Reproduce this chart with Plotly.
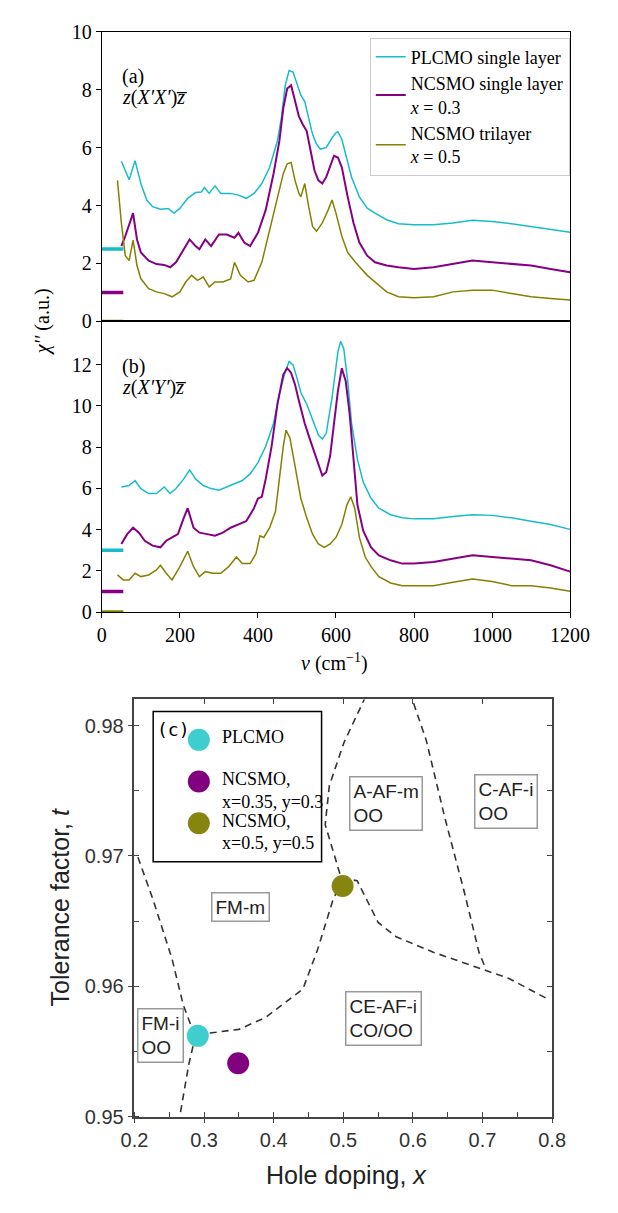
import plotly.graph_objects as go

# ---------------- data: panel (a) z(X'X')z ----------------
a_cyan_x = [50, 70, 85, 100, 115, 130, 150, 170, 185, 200, 220, 240, 255, 263, 275, 290, 305, 330, 350, 370, 390, 410, 430, 450, 460, 470, 480, 490, 500, 510, 520, 530, 540, 550, 560, 575, 590, 600, 605, 615, 625, 640, 660, 680, 700, 730, 760, 800, 850, 900, 950, 1000, 1050, 1100, 1150, 1200]
a_cyan_y = [5.53, 4.89, 5.55, 4.76, 4.19, 3.96, 3.87, 3.90, 3.74, 3.90, 4.25, 4.45, 4.47, 4.62, 4.42, 4.68, 4.42, 4.42, 4.36, 4.25, 4.42, 4.76, 5.32, 6.23, 7.02, 8.15, 8.66, 8.61, 8.21, 7.81, 7.59, 7.02, 6.46, 6.12, 5.95, 6.00, 6.34, 6.51, 6.55, 6.29, 5.78, 4.98, 4.30, 3.91, 3.74, 3.51, 3.37, 3.34, 3.34, 3.40, 3.49, 3.45, 3.37, 3.28, 3.17, 3.08]

a_purple_x = [50, 60, 80, 90, 100, 120, 140, 160, 175, 190, 210, 225, 240, 250, 265, 280, 300, 320, 340, 350, 365, 380, 400, 420, 440, 455, 465, 475, 485, 495, 505, 515, 525, 535, 545, 555, 565, 575, 585, 595, 605, 615, 630, 645, 660, 680, 700, 730, 760, 800, 850, 900, 950, 1000, 1050, 1100, 1150, 1200]
a_purple_y = [2.60, 2.94, 3.74, 2.83, 2.38, 2.10, 1.98, 1.95, 1.87, 2.04, 2.49, 2.83, 2.60, 2.49, 2.83, 2.60, 3.00, 3.00, 2.89, 3.06, 2.72, 2.60, 3.06, 3.85, 5.10, 6.23, 7.36, 8.04, 8.15, 7.59, 7.08, 6.80, 6.57, 5.89, 5.21, 4.87, 4.76, 4.98, 5.32, 5.72, 5.66, 5.32, 4.30, 3.40, 2.72, 2.27, 2.04, 1.93, 1.87, 1.81, 1.87, 1.98, 2.10, 2.04, 1.98, 1.93, 1.81, 1.70]

a_olive_x = [40, 50, 60, 70, 80, 90, 100, 120, 140, 160, 180, 200, 215, 230, 245, 260, 275, 290, 310, 330, 340, 355, 375, 390, 410, 430, 450, 465, 475, 485, 495, 505, 510, 520, 530, 540, 550, 565, 580, 590, 600, 615, 630, 650, 680, 700, 730, 760, 800, 850, 900, 950, 1000, 1050, 1100, 1150, 1200]
a_olive_y = [4.87, 3.40, 2.27, 2.10, 2.81, 1.93, 1.47, 1.13, 1.02, 0.96, 0.85, 1.02, 1.36, 1.59, 1.42, 1.53, 1.19, 1.36, 1.36, 1.47, 2.04, 1.59, 1.36, 1.42, 2.04, 3.17, 4.30, 5.10, 5.44, 5.49, 4.87, 4.42, 4.30, 4.76, 3.96, 3.28, 3.11, 3.40, 3.85, 4.19, 3.74, 2.94, 2.38, 2.04, 1.59, 1.36, 1.02, 0.85, 0.82, 0.85, 1.02, 1.08, 1.08, 0.96, 0.85, 0.79, 0.74]

# ---------------- data: panel (b) z(X'Y')z ----------------
b_cyan_x = [50, 70, 85, 100, 120, 140, 160, 175, 190, 210, 225, 240, 260, 280, 300, 320, 340, 360, 380, 400, 420, 440, 455, 470, 480, 490, 500, 510, 525, 540, 555, 565, 575, 590, 605, 612, 620, 630, 640, 655, 670, 690, 710, 740, 770, 800, 850, 900, 950, 1000, 1050, 1100, 1150, 1200]
b_cyan_y = [6.07, 6.14, 6.38, 5.99, 5.75, 5.75, 6.07, 5.75, 5.99, 6.46, 6.90, 6.46, 6.14, 5.99, 5.91, 6.07, 6.22, 6.38, 6.70, 7.25, 8.04, 9.15, 10.57, 11.67, 12.15, 11.99, 11.36, 10.65, 10.09, 9.30, 8.59, 8.39, 8.67, 10.41, 12.62, 13.13, 12.78, 11.20, 9.15, 7.41, 6.30, 5.51, 5.04, 4.72, 4.57, 4.52, 4.53, 4.64, 4.72, 4.69, 4.57, 4.41, 4.25, 4.01]

b_purple_x = [50, 65, 80, 95, 110, 130, 150, 165, 180, 195, 210, 220, 235, 250, 270, 290, 310, 330, 350, 370, 390, 400, 410, 420, 435, 450, 465, 475, 485, 495, 505, 520, 535, 550, 565, 575, 585, 595, 605, 615, 625, 635, 645, 655, 670, 690, 710, 740, 770, 800, 850, 900, 950, 1000, 1050, 1100, 1150, 1200]
b_purple_y = [3.30, 3.78, 4.09, 3.85, 3.46, 3.22, 3.14, 3.46, 3.62, 3.78, 4.57, 5.04, 4.09, 3.85, 3.78, 3.70, 3.85, 4.09, 4.25, 4.41, 5.04, 5.51, 5.59, 6.46, 8.04, 10.09, 11.52, 11.83, 11.60, 11.04, 10.25, 9.15, 8.28, 7.41, 6.62, 6.78, 7.57, 9.15, 10.73, 11.83, 11.20, 9.62, 7.25, 5.20, 3.93, 3.14, 2.75, 2.51, 2.35, 2.35, 2.43, 2.59, 2.75, 2.67, 2.59, 2.51, 2.27, 1.96]

b_olive_x = [40, 55, 70, 85, 100, 120, 140, 150, 165, 180, 200, 220, 235, 250, 265, 285, 305, 325, 345, 360, 380, 395, 405, 415, 430, 445, 455, 465, 472, 482, 495, 510, 525, 540, 555, 570, 585, 600, 615, 628, 638, 648, 660, 675, 690, 710, 740, 770, 800, 850, 900, 950, 1000, 1050, 1100, 1150, 1200]
b_olive_y = [1.80, 1.56, 1.56, 1.88, 1.72, 1.80, 2.04, 2.27, 1.88, 1.56, 2.20, 2.95, 2.20, 1.72, 1.96, 1.88, 1.88, 2.20, 2.67, 2.35, 2.35, 2.83, 3.70, 3.62, 4.09, 4.88, 6.46, 8.04, 8.83, 8.44, 7.09, 5.51, 4.57, 3.78, 3.30, 3.14, 3.30, 3.62, 4.25, 5.20, 5.59, 5.04, 3.62, 2.67, 2.20, 1.72, 1.41, 1.28, 1.28, 1.28, 1.44, 1.60, 1.48, 1.28, 1.28, 1.17, 1.01]

series_names = ["PLCMO single layer", "NCSMO single layer<br><i>x</i> = 0.3", "NCSMO trilayer<br><i>x</i> = 0.5"]
offsets_a = [2.5, 1.0, 0.0]
offsets_b = [3.0, 1.0, 0.0]
offset_bar_x = [0, 55]

xticks_ab = [0, 200, 400, 600, 800, 1000, 1200]
yticks_a = [0, 2, 4, 6, 8, 10]
yticks_b = [0, 2, 4, 6, 8, 10, 12]

# ---------------- data: panel (c) phase diagram ----------------
samples = ["PLCMO", "NCSMO,<br>x=0.35, y=0.3", "NCSMO,<br>x=0.5, y=0.5"]
sample_x = [0.291, 0.349, 0.499]
sample_t = [0.9562, 0.9541, 0.9677]

boundary_1x = [0.205, 0.227, 0.254, 0.270, 0.286]
boundary_1y = [0.9699, 0.9666, 0.9621, 0.9586, 0.9563]
boundary_2x = [0.288, 0.278, 0.265]
boundary_2y = [0.9563, 0.9540, 0.9500]
boundary_3x = [0.291, 0.318, 0.350, 0.388, 0.442, 0.463, 0.485, 0.498, 0.474, 0.480, 0.501, 0.531]
boundary_3y = [0.9563, 0.9565, 0.9567, 0.9576, 0.9598, 0.9628, 0.9666, 0.9681, 0.9724, 0.9754, 0.9787, 0.9821]
boundary_4x = [0.498, 0.520, 0.550, 0.576, 0.630, 0.700, 0.738, 0.791]
boundary_4y = [0.9683, 0.9681, 0.9649, 0.9638, 0.9626, 0.9613, 0.9606, 0.9591]
boundary_5x = [0.601, 0.619, 0.646, 0.673, 0.695, 0.705]
boundary_5y = [0.9817, 0.9789, 0.9729, 0.9674, 0.9626, 0.9613]

phase_labels = ["FM-m", "A-AF-m<br>OO", "C-AF-i<br>OO", "CE-AF-i<br>CO/OO", "FM-i<br>OO"]
phase_x = [0.352, 0.562, 0.734, 0.5575, 0.237]
phase_t = [0.9661, 0.9740, 0.9742, 0.9575, 0.9562]

xticks_c = [0.2, 0.3, 0.4, 0.5, 0.6, 0.7, 0.8]
yticks_c = [0.95, 0.96, 0.97, 0.98]

colors = ["#17bcc9", "#850085", "#858000"]
dot_colors = ["#3ecece", "#800080", "#858510"]

W, H = 618, 1213
def px(x): return x / W
def py(y): return 1 - y / H

SERIF = "Liberation Serif"
SANS = "Liberation Sans"

fig = go.Figure()

# panel (a)
for xs, ys, c, n, w in [(a_cyan_x, a_cyan_y, colors[0], series_names[0], 1.5),
                        (a_purple_x, a_purple_y, colors[1], series_names[1], 2.0),
                        (a_olive_x, a_olive_y, colors[2], series_names[2], 1.5)]:
    fig.add_trace(go.Scatter(x=xs, y=ys, mode="lines", line=dict(color=c, width=w),
                             name=n, xaxis="x", yaxis="y", showlegend=True))
for off, c in zip(offsets_a, colors):
    fig.add_trace(go.Scatter(x=offset_bar_x, y=[off, off], mode="lines", line=dict(color=c, width=3.5),
                             xaxis="x", yaxis="y", showlegend=False, cliponaxis=False))
# panel (b)
for xs, ys, c, w in [(b_cyan_x, b_cyan_y, colors[0], 1.5),
                     (b_purple_x, b_purple_y, colors[1], 2.0),
                     (b_olive_x, b_olive_y, colors[2], 1.5)]:
    fig.add_trace(go.Scatter(x=xs, y=ys, mode="lines", line=dict(color=c, width=w),
                             xaxis="x2", yaxis="y2", showlegend=False))
for off, c in zip(offsets_b, colors):
    fig.add_trace(go.Scatter(x=offset_bar_x, y=[off, off], mode="lines", line=dict(color=c, width=3.5),
                             xaxis="x2", yaxis="y2", showlegend=False, cliponaxis=False))

# panel (c)
for bx, by in [(boundary_1x, boundary_1y), (boundary_2x, boundary_2y), (boundary_3x, boundary_3y),
               (boundary_4x, boundary_4y), (boundary_5x, boundary_5y)]:
    fig.add_trace(go.Scatter(x=bx, y=by, mode="lines", line=dict(color="#333333", width=1.6, dash="7px,5px"),
                             xaxis="x3", yaxis="y3", showlegend=False))
fig.add_trace(go.Scatter(x=sample_x, y=sample_t, mode="markers",
                         marker=dict(color=dot_colors, size=22, line=dict(width=0)),
                         xaxis="x3", yaxis="y3", showlegend=False, cliponaxis=False))
fig.add_trace(go.Scatter(x=[None], y=[None], xaxis="x4", yaxis="y4", showlegend=False))

# axes domains (paper fractions)
dom_x_ab = [px(84.5), px(580)]
dom_a = [py(308), py(13)]
dom_b = [py(604), py(308)]
dom_x_c = [px(119), px(561)]
dom_c = [py(1118), py(693)]

serif_tick = dict(family=SERIF, size=20, color="black")
ax_common = dict(showline=True, linecolor="black", linewidth=1.3, mirror=True, showgrid=False, zeroline=False)

fig.update_layout(
    width=W, height=H, margin=dict(l=0, r=0, t=0, b=0),
    paper_bgcolor="white", plot_bgcolor="white",
    xaxis=dict(domain=dom_x_ab, anchor="y", range=[0, 1200], ticks="", showticklabels=False, **ax_common),
    yaxis=dict(domain=dom_a, anchor="x", range=[0, 10], tickvals=yticks_a, ticks="outside", ticklen=5,
               tickcolor="black", tickfont=serif_tick, **ax_common),
    xaxis2=dict(domain=dom_x_ab, anchor="y2", range=[0, 1200], tickvals=xticks_ab, ticks="outside", ticklen=5,
                tickcolor="black", tickfont=serif_tick, **ax_common),
    yaxis2=dict(domain=dom_b, anchor="x2", range=[0, 14.1], tickvals=yticks_b, ticks="outside", ticklen=5,
                tickcolor="black", tickfont=serif_tick, **ax_common),
    xaxis3=dict(domain=dom_x_c, anchor="y3", range=[0.2, 0.8], tickvals=xticks_c, ticktext=[f"{v:.1f}" for v in xticks_c],
                ticks="outside", ticklen=5, tickwidth=1.2, tickcolor="#444",
                minor=dict(dtick=0.05, tick0=0.2, ticks="inside", ticklen=5, tickcolor="#444"),
                tickfont=dict(family=SANS, size=20, color="#333"),
                showline=True, linecolor="#444", linewidth=1.5, mirror=True, showgrid=False, zeroline=False),
    yaxis3=dict(domain=dom_c, anchor="x3", range=[0.95, 0.9820], tickvals=yticks_c, ticktext=[f"{v:.2f}" for v in yticks_c],
                ticks="outside", ticklen=5, tickwidth=1.2, tickcolor="#444",
                minor=dict(dtick=0.005, tick0=0.95, ticks="inside", ticklen=5, tickcolor="#444"),
                tickfont=dict(family=SANS, size=20, color="#333"),
                showline=True, linecolor="#444", linewidth=1.5, mirror=True, showgrid=False, zeroline=False),
    xaxis4=dict(overlaying="x3", anchor="y4", range=[0.2, 0.8], tickvals=xticks_c, showticklabels=False,
                ticks="inside", ticklen=5, tickwidth=1.2, tickcolor="#444", mirror="ticks",
                showline=False, showgrid=False, zeroline=False),
    yaxis4=dict(overlaying="y3", anchor="x4", range=[0.95, 0.9820], tickvals=yticks_c, showticklabels=False,
                ticks="inside", ticklen=5, tickwidth=1.2, tickcolor="#444", mirror="ticks",
                minor=dict(dtick=0.005, tick0=0.95, ticks="inside", ticklen=5, tickcolor="#444"),
                showline=False, showgrid=False, zeroline=False),
    legend=dict(x=px(368), y=py(19), xanchor="left", yanchor="top", bgcolor="white",
                bordercolor="#cccccc", borderwidth=1, font=dict(family=SERIF, size=18, color="black"),
                itemwidth=30, tracegroupgap=0),
)

ann = []
# panel (a)/(b) labels
lab_font = dict(family=SERIF, size=20, color="black")
ann.append(dict(x=px(104), y=py(59), xref="paper", yref="paper", xanchor="left", yanchor="middle",
                text="(a)", showarrow=False, font=lab_font))
ann.append(dict(x=px(104), y=py(80), xref="paper", yref="paper", xanchor="left", yanchor="middle",
                text="<i>z</i>(<i>X′X′</i>)<i>z\u0305</i>", showarrow=False, font=lab_font))
ann.append(dict(x=px(104), y=py(354), xref="paper", yref="paper", xanchor="left", yanchor="middle",
                text="(b)", showarrow=False, font=lab_font))
ann.append(dict(x=px(104), y=py(375), xref="paper", yref="paper", xanchor="left", yanchor="middle",
                text="<i>z</i>(<i>X′Y′</i>)<i>z\u0305</i>", showarrow=False, font=lab_font))
ann.append(dict(x=px(22), y=py(308), xref="paper", yref="paper", xanchor="center", yanchor="middle", textangle=-90,
                text="<i>χ′′</i> (a.u.)", showarrow=False, font=lab_font))
ann.append(dict(x=px(331), y=py(655), xref="paper", yref="paper", xanchor="center", yanchor="middle",
                text="<i>ν</i> (cm<sup>−1</sup>)", showarrow=False, font=lab_font))

# panel (c) axis titles
ann.append(dict(x=px(40), y=py(905), xref="paper", yref="paper", xanchor="center", yanchor="middle", textangle=-90,
                text="Tolerance factor, <i>t</i>", showarrow=False, font=dict(family=SANS, size=25, color="#222")))
ann.append(dict(x=px(343), y=py(1177), xref="paper", yref="paper", xanchor="center", yanchor="middle",
                text="Hole doping, <i>x</i>", showarrow=False, font=dict(family=SANS, size=25, color="#222")))

# phase labels
for lab, lx, ly in zip(phase_labels, phase_x, phase_t):
    ann.append(dict(x=lx, y=ly, xref="x3", yref="y3", xanchor="center", yanchor="middle", text=lab, align="left",
                    showarrow=False, font=dict(family=SANS, size=19, color="#222"),
                    bordercolor="#999999", borderwidth=1.5, borderpad=3, bgcolor="white"))

# panel (c) legend
leg_text_x = 0.3226
line_step = 0.00173
ann.append(dict(x=0.229, y=0.9797, xref="x3", yref="y3", xanchor="left", yanchor="middle", text="(c)",
                showarrow=False, font=dict(family="DejaVu Sans Mono", size=18, color="black")))
leg_rows = [0.97890, 0.97570, 0.97250]
for s, ly in zip(samples, leg_rows):
    for k, part in enumerate(s.split("<br>")):
        ann.append(dict(x=leg_text_x, y=ly + 0.0002 - k * line_step, xref="x3", yref="y3",
                        xanchor="left", yanchor="middle", text=part, align="left",
                        showarrow=False, font=dict(family=SERIF, size=18, color="black")))
fig.update_layout(annotations=ann)

shapes = [dict(type="rect", xref="x3", yref="y3", x0=0.2269, x1=0.4688, y0=0.96956, y1=0.98108,
               line=dict(color="black", width=1.5), fillcolor="white", layer="below")]
for c, ly in zip(dot_colors, leg_rows):
    shapes.append(dict(type="circle", xref="x3", yref="y3", xsizemode="pixel", ysizemode="pixel",
                       xanchor=0.2925, yanchor=ly, x0=-11, x1=11, y0=-11, y1=11,
                       fillcolor=c, line=dict(width=0)))
fig.update_layout(shapes=shapes)

fig.write_html("out.html")
